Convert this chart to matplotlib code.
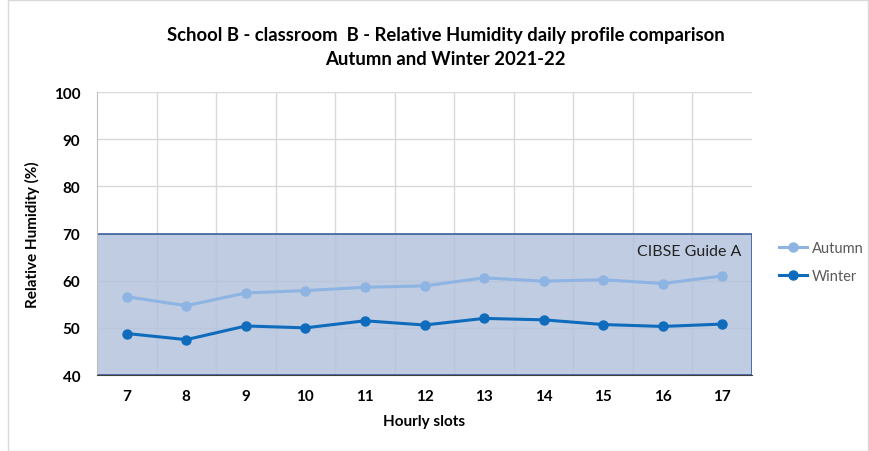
import matplotlib
matplotlib.use("Agg")
import matplotlib.pyplot as plt
from matplotlib.patches import Rectangle
from matplotlib.lines import Line2D

plt.rcParams['font.family'] = ['Lato', 'DejaVu Sans']

hours = [7, 8, 9, 10, 11, 12, 13, 14, 15, 16, 17]
autumn = [56.6, 54.7, 57.4, 57.9, 58.6, 58.9, 60.6, 59.9, 60.2, 59.4, 61.0]
winter = [48.8, 47.5, 50.4, 50.0, 51.5, 50.6, 52.0, 51.7, 50.7, 50.3, 50.8]
band_low, band_high = 40, 70
yticks = [40, 50, 60, 70, 80, 90, 100]

c_aut = '#8EB4E3'
c_win = '#0F6CBD'

fig = plt.figure(figsize=(8.69, 4.52), dpi=100)
fig.patches.append(Rectangle((0.009, 0.0), 0.99, 0.998, transform=fig.transFigure,
                             fill=False, edgecolor='#D9D9D9', linewidth=1))
ax = fig.add_axes([0.1116, 0.1681, 0.7538, 0.6261])

x = list(range(len(hours)))
ax.set_xlim(-0.5, len(hours) - 0.5)
ax.set_ylim(40, 100)

# grid
for v in yticks[1:]:
    ax.axhline(v, color='#D9D9D9', linewidth=1, zorder=0)
for i in range(1, len(hours)):
    ax.axvline(i - 0.5, color='#D9D9D9', linewidth=1, zorder=0)

ax.add_patch(Rectangle((-0.5, band_low), len(hours), band_high - band_low,
                       facecolor='#B4C3DC', alpha=0.85, edgecolor='#2F5597', linewidth=1.3, zorder=1))
ax.text(len(hours) - 0.68, 66.3, 'CIBSE Guide A', ha='right', va='center', fontsize=11.5, color='#222222', zorder=4)

ax.plot(x, autumn, '-o', color=c_aut, linewidth=2.2, markersize=6.5, zorder=3, label='Autumn')
ax.plot(x, winter, '-o', color=c_win, linewidth=2.2, markersize=6.5, zorder=3, label='Winter')

ax.set_xticks(x)
ax.set_xticklabels([str(h) for h in hours], fontsize=11, fontweight='bold')
ax.set_yticks(yticks)
ax.set_yticklabels([str(v) for v in yticks], fontsize=11, fontweight='bold')
ax.tick_params(length=0, pad=10)
ax.tick_params(axis='y', pad=12)

for s in ['top', 'right']:
    ax.spines[s].set_visible(False)
ax.spines['left'].set_color('#BFBFBF')
ax.spines['bottom'].set_color('#404040')
ax.spines['left'].set_zorder(2)

ax.set_xlabel('Hourly slots', fontsize=11, fontweight='bold', labelpad=8)
ax.set_ylabel('Relative Humidity (%)', fontsize=11, fontweight='bold', labelpad=10)

fig.text(0.513, 0.922, 'School B - classroom  B - Relative Humidity daily profile comparison',
         ha='center', va='center', fontsize=13.3, fontweight='bold')
fig.text(0.513, 0.868, 'Autumn and Winter 2021-22', ha='center', va='center',
         fontsize=13.3, fontweight='bold')

handles = [Line2D([0], [0], color=c_aut, marker='o', linewidth=2.2, markersize=6.5),
           Line2D([0], [0], color=c_win, marker='o', linewidth=2.2, markersize=6.5)]
fig.legend(handles, ['Autumn', 'Winter'], loc='center left', bbox_to_anchor=(0.897, 0.418),
           frameon=False, fontsize=10.5, handlelength=1.9, labelspacing=0.95, handletextpad=0.3,
           borderpad=0, borderaxespad=0, labelcolor='#595959')

fig.savefig('out.png', dpi=100)
